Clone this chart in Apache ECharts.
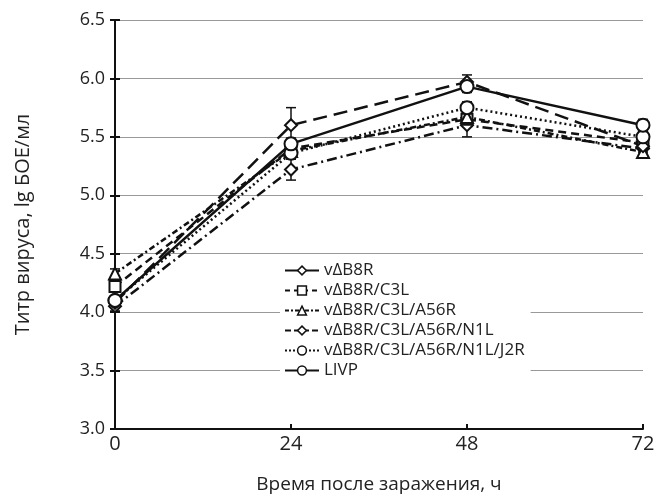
<!DOCTYPE html>
<html>
<head>
<meta charset="utf-8">
<script src="https://cdn.jsdelivr.net/npm/echarts@6/dist/echarts.min.js"></script>
<style>
  html, body { margin: 0; padding: 0; background: #fff; }
  #myChart { width: 661px; height: 499px; }
</style>
</head>
<body>
<div id="myChart"></div>
<script type="text/javascript">

  // data
  var hours = [0, 24, 48, 72];
  var names = ["v\u0394B8R", "v\u0394B8R/C3L", "v\u0394B8R/C3L/A56R", "v\u0394B8R/C3L/A56R/N1L", "v\u0394B8R/C3L/A56R/N1L/J2R", "LIVP"];
  var b8r = [4.05, 5.22, 5.60, 5.40];
  var c3l = [4.22, 5.40, 5.65, 5.45];
  var a56r = [4.33, 5.38, 5.67, 5.37];
  var n1l = [4.08, 5.60, 5.97, 5.42];
  var j2r = [4.10, 5.36, 5.75, 5.50];
  var livp = [4.10, 5.44, 5.93, 5.60];
  // error bar half widths
  var b8rErr = [0.04, 0.09, 0.10, 0.05];
  var c3lErr = [0.04, 0.05, 0.05, 0.05];
  var a56rErr = [0.04, 0.05, 0.05, 0.05];
  var n1lErr = [0.04, 0.15, 0.06, 0.05];
  var j2rErr = [0.04, 0.05, 0.05, 0.04];
  var livpErr = [0.04, 0.05, 0.05, 0.05];

  var values = [b8r, c3l, a56r, n1l, j2r, livp];
  var errors = [b8rErr, c3lErr, a56rErr, n1lErr, j2rErr, livpErr];
  var symbols = ["diamond", "rect", "triangle", "diamond", "circle", "circle"];
  var symbolSizes = [12, 11, 12, 12, 13, 13];
  var lineTypes = [[10, 4, 2, 4], [8, 5], [6, 3, 2, 3], [14, 7], [2, 3], "solid"];
  var legendTypes = ["solid", [5, 4], [4, 2, 2, 2], [6, 3], [2, 2], "solid"];

  var font = "Open Sans";
  var chartDom = document.getElementById("myChart");
  var myChart = echarts.init(chartDom);

  var series = [];
  var errData = [];
  var legendData = [];
  for (var s = 0; s < values.length; s++) {
    series.push({
      name: names[s],
      type: "line",
      data: hours.map(function (h, i) { return [h, values[s][i]]; }),
      symbol: symbols[s],
      symbolSize: symbolSizes[s],
      showAllSymbol: true,
      z: 3,
      lineStyle: { color: "#111", width: 2.5, type: lineTypes[s] },
      itemStyle: { color: "#fff", borderColor: "#111", borderWidth: 2 }
    });
    legendData.push({
      name: names[s],
      itemStyle: { color: "#fff", borderColor: "#111", borderWidth: 1.5 },
      lineStyle: { color: "#111", width: 2, type: legendTypes[s] }
    });
    for (var i = 0; i < hours.length; i++) {
      errData.push([hours[i], values[s][i] - errors[s][i], values[s][i] + errors[s][i]]);
    }
  }

  series.push({
    type: "custom",
    z: 2,
    silent: true,
    data: errData,
    renderItem: function (params, api) {
      var lo = api.coord([api.value(0), api.value(1)]);
      var hi = api.coord([api.value(0), api.value(2)]);
      var w = 5;
      var st = { stroke: "#111", lineWidth: 1.5 };
      return {
        type: "group",
        children: [
          { type: "line", shape: { x1: lo[0], y1: lo[1], x2: hi[0], y2: hi[1] }, style: st },
          { type: "line", shape: { x1: lo[0] - w, y1: lo[1], x2: lo[0] + w, y2: lo[1] }, style: st },
          { type: "line", shape: { x1: hi[0] - w, y1: hi[1], x2: hi[0] + w, y2: hi[1] }, style: st }
        ]
      };
    }
  });

  var option = {
    backgroundColor: "#fff",
    animation: false,
    textStyle: { fontFamily: font },
    grid: { left: 115, right: 18, top: 20, bottom: 68 },
    legend: {
      data: legendData,
      orient: "vertical",
      left: 280,
      top: 260,
      itemGap: 3,
      itemWidth: 34,
      itemHeight: 11,
      backgroundColor: "#fff",
      padding: [2, 6, 2, 4],
      textStyle: { fontFamily: font, fontSize: 17, color: "#222" }
    },
    xAxis: {
      type: "value",
      min: 0,
      max: 72,
      interval: 24,
      name: "Время после заражения, ч",
      nameLocation: "middle",
      nameGap: 46,
      nameTextStyle: { fontSize: 19, color: "#222", fontFamily: font },
      axisLine: { lineStyle: { color: "#111", width: 2 } },
      axisTick: { inside: true, length: 5, lineStyle: { color: "#111", width: 2 } },
      axisLabel: { fontSize: 20, color: "#222", margin: 5 },
      splitLine: { show: false }
    },
    yAxis: [{
      type: "value",
      min: 3.0,
      max: 6.5,
      interval: 0.5,
      name: "Титр вируса, lg БОЕ/мл",
      nameLocation: "middle",
      nameGap: 82,
      nameTextStyle: { fontSize: 20, color: "#222", fontFamily: font },
      axisLine: { show: true, lineStyle: { color: "#111", width: 2 } },
      axisTick: { show: true, length: 5, lineStyle: { color: "#111", width: 2 } },
      axisLabel: { fontSize: 18, color: "#222", margin: 10, formatter: function (v) { return v.toFixed(1); } },
      splitLine: { show: true, lineStyle: { color: "#999", width: 1 } }
    }, {
      type: "value",
      position: "left",
      offset: 0,
      min: 3.0,
      max: 6.5,
      interval: 0.5,
      axisLine: { show: false },
      axisTick: { show: true, inside: true, length: 5, lineStyle: { color: "#111", width: 2 } },
      axisLabel: { show: false },
      splitLine: { show: false }
    }],
    series: series
  };

  option && myChart.setOption(option);
</script>
</body>
</html>
